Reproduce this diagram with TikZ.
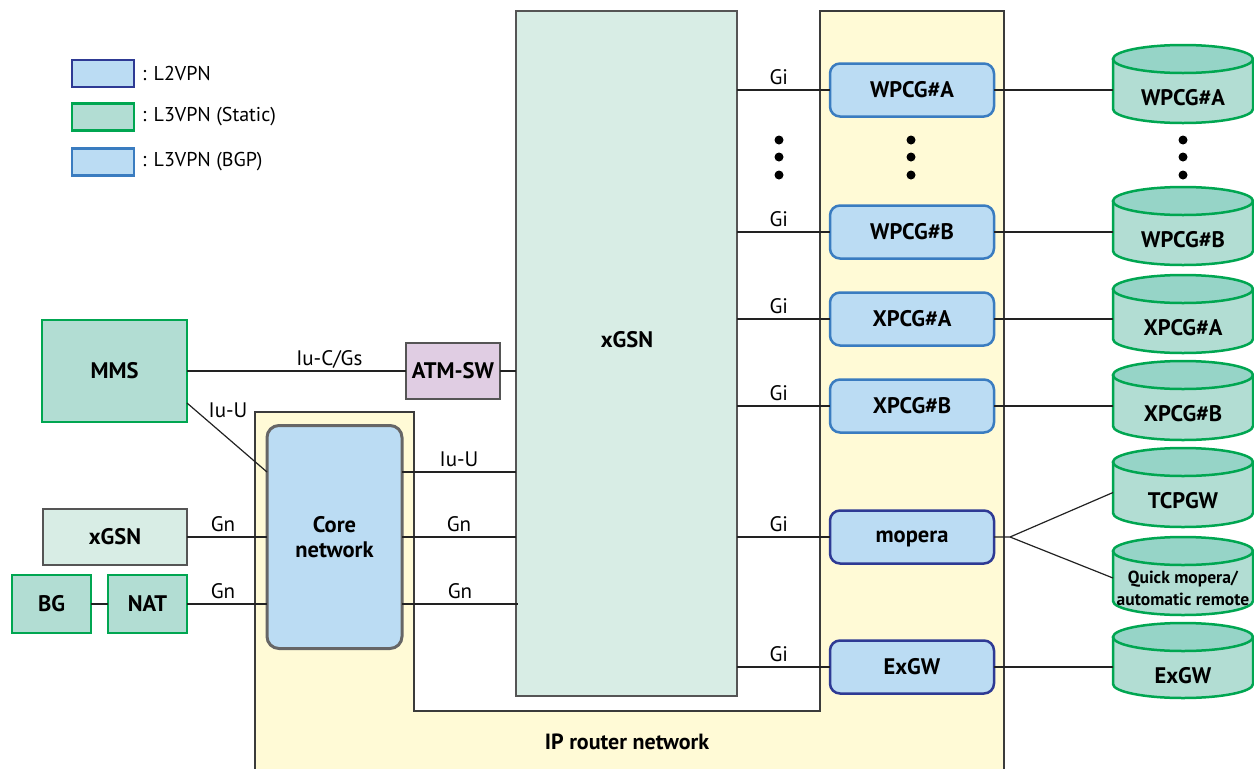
\documentclass[tikz,border=0pt]{standalone}
\usepackage{fontspec}
\setmainfont{PT Sans}
\definecolor{mintF}{HTML}{D8EDE5}
\definecolor{grnF}{HTML}{B2DDD3}
\definecolor{grnB}{HTML}{00A651}
\definecolor{cylEnd}{HTML}{96D4C7}
\definecolor{blueF}{HTML}{BBDCF3}
\definecolor{bgpB}{HTML}{3A7CC0}
\definecolor{ltwoB}{HTML}{2E3A94}
\definecolor{yelF}{HTML}{FFFAD6}
\definecolor{purF}{HTML}{E0CDE3}
\definecolor{grayB}{HTML}{555555}
\definecolor{lineC}{HTML}{222222}
\tikzset{
  base/.style={font=\bfseries\fontsize{22.5}{25}\selectfont, align=center, inner sep=0pt, outer sep=0pt},
  grnbox/.style={base, draw=grnB, fill=grnF, line width=2.5pt},
  mintbox/.style={base, draw=grayB, fill=mintF, line width=1.5pt},
  purbox/.style={base, draw=grayB, fill=purF, line width=1.5pt},
  bgpbox/.style={base, draw=bgpB, fill=blueF, line width=2.5pt, rounded corners=10pt},
  ltwobox/.style={base, draw=ltwoB, fill=blueF, line width=2.5pt, rounded corners=10pt},
  corebox/.style={base, draw=grayB!90, fill=blueF, line width=3pt, rounded corners=12pt},
  legbox/.style={base, line width=2.5pt, minimum width=62, minimum height=27},
  legtxt/.style={font=\fontsize{20}{22}\selectfont, anchor=west, inner sep=0pt},
  lbl/.style={font=\fontsize{21}{23}\selectfont, inner sep=0pt, anchor=base, yshift=6pt},
  conn/.style={draw=lineC, line width=1.2pt},
  cylbody/.style={inner sep=0pt, outer sep=0pt, minimum width=140, draw=none},
  cyltxt/.style={font=\bfseries\fontsize{22.5}{25}\selectfont, align=center, inner sep=0pt},
  dot/.style={fill=black},
}
\newcommand{\mycyl}[5]{% name, cx, yt, yb, text
  \fill[grnF] ({#2-70},{#3+14}) -- ({#2-70},{#4-14}) arc[start angle=180, end angle=0, x radius=70, y radius=14] -- ({#2+70},{#3+14}) -- cycle;
  \draw[grnB, line width=2.5pt] ({#2-70},{#3+14}) -- ({#2-70},{#4-14}) arc[start angle=180, end angle=0, x radius=70, y radius=14] -- ({#2+70},{#3+14});
  \draw[grnB, fill=cylEnd, line width=2.5pt] (#2,{#3+14}) ellipse[x radius=70, y radius=14];
  \node[cylbody, minimum height={#4-#3}] (#1) at (#2,{(#3+#4)/2}) {};
  \node[cyltxt] (#1t) at (#2,{#3+53}) {#5};
}
\begin{document}
\begin{tikzpicture}[x=1pt,y=-1pt]
\useasboundingbox (0,0) rectangle (1254,769);
% IP router network region
\fill[yelF] (255,771) -- (255,412) -- (414,412) -- (414,711) -- (820,711) -- (820,11) -- (1004,11) -- (1004,771) -- cycle;
\draw[grayB!70!black, line width=1.5pt] (255,771) -- (255,412) -- (414,412) -- (414,711) -- (820,711) -- (820,11) -- (1004,11) -- (1004,771);
\node[base, font=\bfseries\fontsize{22}{24}\selectfont] (iprn) at (627,742) {IP router network};

% legend
\node[legbox, draw=ltwoB, fill=blueF] (leg1) at (103,73.5) {};
\node[legbox, draw=grnB, fill=grnF] (leg2) at (103,117) {};
\node[legbox, draw=bgpB, fill=blueF] (leg3) at (103,162) {};
\node[legtxt] (leg1t) at (142,73.5) {: L2VPN};
\node[legtxt] (leg2t) at (142,117) {: L3VPN (Static)};
\node[legtxt] (leg3t) at (142,162) {: L3VPN (BGP)};

% central xGSN
\node[mintbox, minimum width=221, minimum height=685] (xgsn) at (626.5,353.5) {};
\node[base] (xgsnt) at (627,340) {xGSN};

% left side
\node[grnbox, minimum width=145, minimum height=102] (mms) at (114.5,371) {MMS};
\node[mintbox, minimum width=144, minimum height=56] (xgsns) at (115,537) {xGSN};
\node[grnbox, minimum width=79, minimum height=58] (bg) at (51.5,604) {BG};
\node[grnbox, minimum width=79, minimum height=58] (nat) at (147.5,604) {NAT};
\node[purbox, minimum width=94, minimum height=56] (atm) at (453,371) {ATM-SW};
\node[corebox, minimum width=135, minimum height=223] (core) at (334.5,537) {Core\\network};

% right boxes
\node[bgpbox, minimum width=164, minimum height=53] (wpa) at (912,90) {WPCG\#A};
\node[bgpbox, minimum width=164, minimum height=53] (wpb) at (912,232) {WPCG\#B};
\node[bgpbox, minimum width=164, minimum height=53] (xpa) at (912,319) {XPCG\#A};
\node[bgpbox, minimum width=164, minimum height=53] (xpb) at (912,406) {XPCG\#B};
\node[ltwobox, minimum width=164, minimum height=53, text depth=0pt] (mop) at (912,537) {mopera};
\node[ltwobox, minimum width=164, minimum height=53] (exg) at (912,667) {ExGW};

% cylinders
\mycyl{cwa}{1183}{45}{123}{WPCG\#A}
\mycyl{cwb}{1183}{187}{265}{WPCG\#B}
\mycyl{cxa}{1183}{275}{353}{XPCG\#A}
\mycyl{cxb}{1183}{361}{440}{XPCG\#B}
\mycyl{ctc}{1183}{448}{527}{TCPGW}
\fill[grnF] (1113,551) -- (1113,601) arc[start angle=180, end angle=0, x radius=70, y radius=14] -- (1253,551) -- cycle;
\draw[grnB, line width=2.5pt] (1113,551) -- (1113,601) arc[start angle=180, end angle=0, x radius=70, y radius=14] -- (1253,551);
\draw[grnB, fill=cylEnd, line width=2.5pt] (1183,551) ellipse[x radius=70, y radius=14];
\node[cylbody, minimum height=78] (cqm) at (1183,576) {};
\node[cyltxt, font=\bfseries\fontsize{17.5}{22}\selectfont] (cqmt) at (1183,588) {Quick mopera/\\automatic remote};
\mycyl{cex}{1183}{623}{698}{ExGW}

% connectors left
\draw[conn] (mms.east) -- node[lbl, pos=0.65] (l1) {Iu-C/Gs} (atm.west);
\draw[conn] (atm.east) -- (atm.east -| xgsn.west);
\coordinate (mmsd) at ([yshift=-32pt]mms.east);
\coordinate (cw1) at ([yshift=65pt]core.west);
\draw[conn] (mmsd) -- (cw1);
\node[font=\fontsize{21}{23}\selectfont, inner sep=0pt] (l2) at (228,410) {Iu-U};
\draw[conn] (xgsns.east) -- node[lbl, pos=0.45] (l3) {Gn} (xgsns.east -| core.west);
\draw[conn] (bg.east) -- (nat.west);
\draw[conn] (nat.east) -- node[lbl, pos=0.45] (l4) {Gn} (nat.east -| core.west);
\coordinate (ce1) at ([yshift=65pt]core.east);
\coordinate (ce3) at ([yshift=-67pt]core.east);
\draw[conn] (ce1) -- node[lbl, pos=0.5] (l5) {Iu-U} (ce1 -| xgsn.west);
\draw[conn] (core.east) -- node[lbl, pos=0.5] (l6) {Gn} (core.east -| xgsn.west);
\draw[conn] (ce3) -- node[lbl, pos=0.5] (l7) {Gn} ([xshift=2pt]ce3 -| xgsn.west);

% connectors right
\foreach \b/\c in {wpa/cwa, wpb/cwb, xpa/cxa, xpb/cxb, exg/cex}{
  \draw[conn] (\b.west -| xgsn.east) -- node[lbl, pos=0.45] {Gi} (\b.west);
  \draw[conn] (\b.east) -- (\b.east -| \c.west);
}
\draw[conn] (mop.west -| xgsn.east) -- node[lbl, pos=0.45] (l8) {Gi} (mop.west);
\coordinate (fan) at ([xshift=16pt]mop.east);
\draw[conn] (mop.east) -- (fan) -- ([yshift=-5pt]ctc.west);
\draw[conn] (fan) -- ([yshift=-2pt]cqm.west);

% dots
\foreach \x in {779,911,1183}{
  \foreach \y in {140,157,175}{
    \fill[dot] (\x,\y) circle[radius=4.5];
  }
}
\end{tikzpicture}
\end{document}
